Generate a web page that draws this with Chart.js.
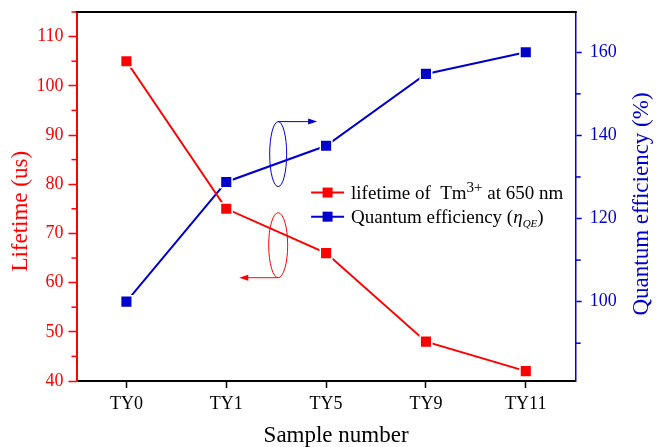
<!DOCTYPE html>
<html>
<head>
<meta charset="utf-8">
<script src="https://cdn.jsdelivr.net/npm/chart.js@4.4.0/dist/chart.umd.min.js"></script>
<style>
  html, body { margin: 0; padding: 0; background: #fff; }
</style>
</head>
<body>
<canvas id="chart" width="667" height="447"></canvas>
<script>
// data
const samples = ['TY0', 'TY1', 'TY5', 'TY9', 'TY11'];
const lifetime = [105, 75, 66, 48, 42];            // us, left axis
const quantumEff = [100, 128.8, 137.5, 154.8, 160]; // %, right axis
const leftTicks = [40, 50, 60, 70, 80, 90, 100, 110];
const leftMinor = [45, 55, 65, 75, 85, 95, 105, 115];
const rightTicks = [100, 120, 140, 160];
const rightMinor = [90, 110, 130, 150];

const RED = '#FF0000';
const BLUE = '#0000CC';
const SERIF = '"Liberation Serif", "Times New Roman", serif';

// extras: frame, minor ticks, axis titles, ellipses + arrows, legend
const extras = {
    id: 'extras',
    afterDraw(chart) {
        const ctx = chart.ctx;
        const a = chart.chartArea;
        const x = chart.scales.x, yl = chart.scales.yL, yr = chart.scales.yR;
        ctx.save();

        // top frame line
        ctx.strokeStyle = '#000';
        ctx.lineWidth = 2;
        ctx.beginPath();
        ctx.moveTo(a.left - 1, a.top);
        ctx.lineTo(a.right + 1, a.top);
        ctx.stroke();

        // minor ticks
        ctx.lineWidth = 1.5;
        ctx.strokeStyle = RED;
        leftMinor.forEach(v => {
            const py = yl.getPixelForValue(v);
            ctx.beginPath();
            ctx.moveTo(a.left - 5, py);
            ctx.lineTo(a.left, py);
            ctx.stroke();
        });
        ctx.strokeStyle = BLUE;
        rightMinor.forEach(v => {
            const py = yr.getPixelForValue(v);
            ctx.beginPath();
            ctx.moveTo(a.right, py);
            ctx.lineTo(a.right + 5, py);
            ctx.stroke();
        });

        // axis titles
        ctx.font = '23px ' + SERIF;
        ctx.textAlign = 'center';
        ctx.textBaseline = 'middle';
        ctx.fillStyle = '#000';
        ctx.fillText('Sample number', x.getPixelForValue(2.1), 436);

        ctx.save();
        ctx.translate(21, yl.getPixelForValue(74.5));
        ctx.rotate(-Math.PI / 2);
        ctx.fillStyle = RED;
        ctx.fillText('Lifetime (us)', 0, 0);
        ctx.restore();

        ctx.save();
        ctx.translate(642, yr.getPixelForValue(123.5));
        ctx.rotate(-Math.PI / 2);
        ctx.fillStyle = BLUE;
        ctx.fillText('Quantum efficiency (%)', 0, 0);
        ctx.restore();

        // ellipses with arrows
        const arrowHead = (px, py, dir, color) => {
            ctx.fillStyle = color;
            ctx.beginPath();
            ctx.moveTo(px, py);
            ctx.lineTo(px - dir * 9, py - 3);
            ctx.lineTo(px - dir * 9, py + 3);
            ctx.closePath();
            ctx.fill();
        };
        ctx.lineWidth = 1;

        const bx = x.getPixelForValue(1.52), by = yr.getPixelForValue(135.5);
        ctx.strokeStyle = BLUE;
        ctx.beginPath();
        ctx.ellipse(bx, by, 8.5, 32.5, 0, 0, Math.PI * 2);
        ctx.stroke();
        const bEnd = x.getPixelForValue(1.91);
        ctx.beginPath();
        ctx.moveTo(bx, by - 32.5);
        ctx.lineTo(bEnd - 6, by - 32.5);
        ctx.stroke();
        arrowHead(bEnd, by - 32.5, 1, BLUE);

        const rx = x.getPixelForValue(1.52), ry = yl.getPixelForValue(67.6);
        ctx.strokeStyle = RED;
        ctx.beginPath();
        ctx.ellipse(rx, ry, 9.5, 32.5, 0, 0, Math.PI * 2);
        ctx.stroke();
        const rEnd = x.getPixelForValue(1.13);
        ctx.beginPath();
        ctx.moveTo(rx, ry + 32.5);
        ctx.lineTo(rEnd + 6, ry + 32.5);
        ctx.stroke();
        arrowHead(rEnd, ry + 32.5, -1, RED);

        // legend
        const lx0 = x.getPixelForValue(1.85), lx1 = x.getPixelForValue(2.18);
        const tx = x.getPixelForValue(2.25);
        const rows = [
            { y: yl.getPixelForValue(78.3), color: RED },
            { y: yl.getPixelForValue(73.4), color: BLUE }
        ];
        rows.forEach(r => {
            ctx.strokeStyle = r.color;
            ctx.lineWidth = 2;
            ctx.beginPath();
            ctx.moveTo(lx0, r.y);
            ctx.lineTo(lx1, r.y);
            ctx.stroke();
            ctx.fillStyle = r.color;
            ctx.fillRect((lx0 + lx1) / 2 - 5, r.y - 5, 10, 10);
        });

        ctx.fillStyle = '#000';
        ctx.textAlign = 'left';
        ctx.textBaseline = 'alphabetic';
        let cx = tx;
        const base1 = rows[0].y + 6.5;
        ctx.font = '19px ' + SERIF;
        let s = 'lifetime of  Tm';
        ctx.fillText(s, cx, base1);
        cx += ctx.measureText(s).width;
        ctx.font = '15px ' + SERIF;
        ctx.fillText('3+', cx, base1 - 7.5);
        cx += ctx.measureText('3+').width;
        ctx.font = '19px ' + SERIF;
        ctx.fillText(' at 650 nm', cx, base1);

        cx = tx;
        const base2 = rows[1].y + 6.5;
        s = 'Quantum efficiency (';
        ctx.fillText(s, cx, base2);
        cx += ctx.measureText(s).width;
        ctx.font = 'italic 19px ' + SERIF;
        ctx.fillText('\u03B7', cx, base2);
        cx += ctx.measureText('\u03B7').width;
        ctx.font = 'italic 11px ' + SERIF;
        ctx.fillText('QE', cx, base2 + 3.5);
        cx += ctx.measureText('QE').width;
        ctx.font = '19px ' + SERIF;
        ctx.fillText(')', cx, base2);

        ctx.restore();
    }
};

const tickFont = { family: SERIF, size: 18 };

const noPad = s => {
    s.paddingTop = 0;
    s.paddingBottom = 0;
    s.paddingLeft = 0;
    s.paddingRight = 0;
};

new Chart(document.getElementById('chart'), {
    type: 'line',
    data: {
        datasets: [{
            label: 'lifetime of Tm3+ at 650 nm',
            data: lifetime.map((v, i) => ({ x: i, y: v })),
            yAxisID: 'yL',
            borderColor: RED,
            backgroundColor: RED,
            borderWidth: 2,
            pointStyle: 'rect',
            pointRadius: 8.2,
            pointHoverRadius: 8.2,
            pointBorderColor: '#fff',
            pointBorderWidth: 1.5,
            pointBackgroundColor: RED,
            tension: 0
        }, {
            label: 'Quantum efficiency',
            data: quantumEff.map((v, i) => ({ x: i, y: v })),
            yAxisID: 'yR',
            borderColor: BLUE,
            backgroundColor: BLUE,
            borderWidth: 2,
            pointStyle: 'rect',
            pointRadius: 8.2,
            pointHoverRadius: 8.2,
            pointBorderColor: '#fff',
            pointBorderWidth: 1.5,
            pointBackgroundColor: BLUE,
            tension: 0
        }]
    },
    options: {
        responsive: false,
        animation: false,
        devicePixelRatio: 1,
        layout: { padding: { top: 12, left: 0, right: 0, bottom: 0 } },
        plugins: { legend: { display: false }, tooltip: { enabled: false } },
        scales: {
            x: {
                type: 'linear',
                min: -0.5,
                max: 4.5,
                afterBuildTicks: s => { s.ticks = samples.map((_, i) => ({ value: i })); },
                afterFit: s => { s.height = 66; noPad(s); },
                ticks: {
                    callback: v => samples[v],
                    font: tickFont,
                    color: '#000',
                    padding: 5,
                    autoSkip: false,
                    maxRotation: 0
                },
                grid: { drawOnChartArea: false, tickLength: 7, tickColor: '#000', tickWidth: 1.5 },
                border: { color: '#000', width: 2 }
            },
            yL: {
                type: 'linear',
                position: 'left',
                min: 40,
                max: 115,
                afterBuildTicks: s => { s.ticks = leftTicks.map(v => ({ value: v })); },
                afterFit: s => { s.width = 76.5; noPad(s); },
                ticks: { font: tickFont, color: RED, padding: 5 },
                grid: { drawOnChartArea: false, tickLength: 8, tickColor: RED, tickWidth: 1.5 },
                border: { color: RED, width: 2 }
            },
            yR: {
                type: 'linear',
                position: 'right',
                min: 80.9,
                max: 169.7,
                afterBuildTicks: s => { s.ticks = rightTicks.map(v => ({ value: v })); },
                afterFit: s => { s.width = 91.3; noPad(s); },
                ticks: { font: tickFont, color: BLUE, padding: 8 },
                grid: { drawOnChartArea: false, tickLength: 6, tickColor: BLUE, tickWidth: 1.5 },
                border: { color: BLUE, width: 1.5 }
            }
        }
    },
    plugins: [extras]
});
</script>
</body>
</html>
